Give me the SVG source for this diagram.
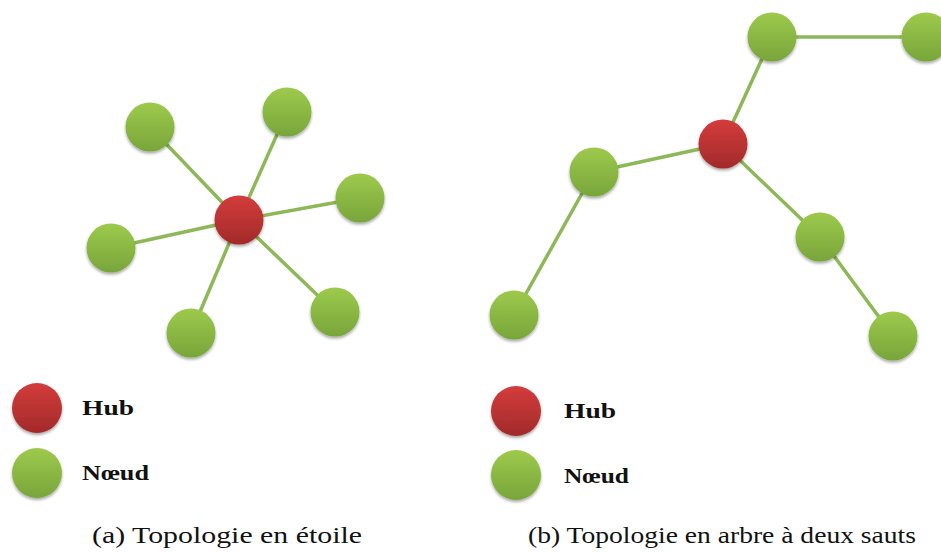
<svg xmlns="http://www.w3.org/2000/svg" width="941" height="552" viewBox="0 0 941 552">
<defs>
<linearGradient id="gGreen" x1="0" y1="0" x2="0" y2="1">
<stop offset="0" stop-color="#9dca4c"/>
<stop offset="1" stop-color="#78a53a"/>
</linearGradient>
<linearGradient id="gRed" x1="0" y1="0" x2="0" y2="1">
<stop offset="0" stop-color="#d43c3c"/>
<stop offset="1" stop-color="#a22a2a"/>
</linearGradient>
<filter id="sh" x="-30%" y="-30%" width="160%" height="170%">
<feGaussianBlur in="SourceAlpha" stdDeviation="1.5"/>
<feOffset dy="1.5" result="b"/>
<feComponentTransfer><feFuncA type="linear" slope="0.35"/></feComponentTransfer>
<feMerge><feMergeNode/><feMergeNode in="SourceGraphic"/></feMerge>
</filter>
</defs>
<style>
.edge{stroke:#8db857;stroke-width:3.5;fill:none;stroke-linecap:round}
.node{fill:url(#gGreen);filter:url(#sh)}
.hub{fill:url(#gRed);filter:url(#sh)}
</style>
<rect width="941" height="552" fill="#ffffff"/>
<g id="connectors">
<line class="edge" x1="239" y1="220" x2="150" y2="127"/>
<line class="edge" x1="239" y1="220" x2="287" y2="112"/>
<line class="edge" x1="239" y1="220" x2="360" y2="198"/>
<line class="edge" x1="239" y1="220" x2="111" y2="248"/>
<line class="edge" x1="239" y1="220" x2="335" y2="312"/>
<line class="edge" x1="239" y1="220" x2="191" y2="333"/>
<line class="edge" x1="723" y1="144" x2="772" y2="37"/>
<line class="edge" x1="772" y1="37" x2="926" y2="37"/>
<line class="edge" x1="723" y1="144" x2="594" y2="172"/>
<line class="edge" x1="594" y1="172" x2="514" y2="315"/>
<line class="edge" x1="723" y1="144" x2="820" y2="237"/>
<line class="edge" x1="820" y1="237" x2="893" y2="336"/>
</g>
<g id="star-hub"><circle class="hub" cx="239" cy="220" r="24.5"/></g>
<g id="star-n1"><circle class="node" cx="150" cy="127" r="24.5"/></g>
<g id="star-n2"><circle class="node" cx="287" cy="112" r="24.5"/></g>
<g id="star-n3"><circle class="node" cx="360" cy="198" r="24.5"/></g>
<g id="star-n4"><circle class="node" cx="111" cy="248" r="24.5"/></g>
<g id="star-n5"><circle class="node" cx="335" cy="312" r="24.5"/></g>
<g id="star-n6"><circle class="node" cx="191" cy="333" r="24.5"/></g>
<g id="tree-hub"><circle class="hub" cx="723" cy="144" r="24.5"/></g>
<g id="tree-n1"><circle class="node" cx="772" cy="37" r="24.5"/></g>
<g id="tree-n2"><circle class="node" cx="926" cy="37" r="24.5"/></g>
<g id="tree-n3"><circle class="node" cx="594" cy="172" r="24.5"/></g>
<g id="tree-n4"><circle class="node" cx="514" cy="315" r="24.5"/></g>
<g id="tree-n5"><circle class="node" cx="820" cy="237" r="24.5"/></g>
<g id="tree-n6"><circle class="node" cx="893" cy="336" r="24.5"/></g>
<g id="legend-a">
<circle class="hub" cx="37" cy="408" r="25"/>
<circle class="node" cx="37" cy="473" r="25"/>
<text font-family="Liberation Serif" font-weight="bold" font-size="22" fill="#111" x="82" y="415" textLength="52" lengthAdjust="spacingAndGlyphs">Hub</text>
<text font-family="Liberation Serif" font-weight="bold" font-size="22" fill="#111" x="82" y="480" textLength="67" lengthAdjust="spacingAndGlyphs">Nœud</text>
</g>
<g id="legend-b">
<circle class="hub" cx="516" cy="411" r="25"/>
<circle class="node" cx="516" cy="475" r="25"/>
<text font-family="Liberation Serif" font-weight="bold" font-size="22" fill="#111" x="564" y="418" textLength="52" lengthAdjust="spacingAndGlyphs">Hub</text>
<text font-family="Liberation Serif" font-weight="bold" font-size="22" fill="#111" x="564" y="483" textLength="65" lengthAdjust="spacingAndGlyphs">Nœud</text>
</g>
<g id="captions">
<text font-family="Liberation Serif" font-size="24" fill="#111" x="92" y="543" textLength="270" lengthAdjust="spacingAndGlyphs">(a) Topologie en étoile</text>
<text font-family="Liberation Serif" font-size="24" fill="#111" x="528" y="543" textLength="388" lengthAdjust="spacingAndGlyphs">(b) Topologie en arbre à deux sauts</text>
</g>
</svg>
